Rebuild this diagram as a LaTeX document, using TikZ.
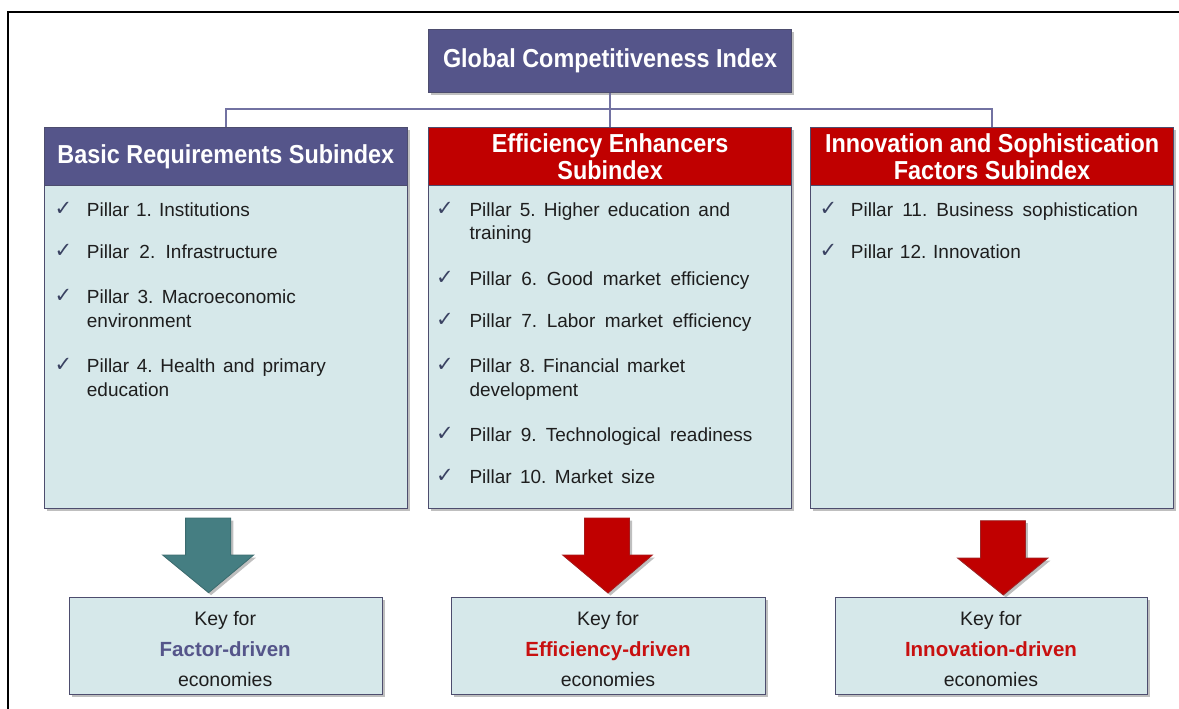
\documentclass[tikz,border=0pt]{standalone}
\usepackage{fontspec}
\setmainfont{Liberation Sans}
\newfontfamily\hdfont[FakeStretch=0.9]{Liberation Sans Bold}
\newfontfamily\symfont{DejaVu Sans}
\usetikzlibrary{shadows}
\definecolor{hdpurple}{HTML}{55558A}
\definecolor{hdred}{HTML}{C00000}
\definecolor{bodyfill}{HTML}{D6E8EA}
\definecolor{borderc}{HTML}{4D4D6E}
\definecolor{connc}{HTML}{7272A2}
\definecolor{tealc}{HTML}{457E82}
\definecolor{checkc}{HTML}{3A4262}
\definecolor{textc}{HTML}{1E1E1E}
\definecolor{keyred}{HTML}{C81010}
\begin{document}
\frenchspacing
\begin{tikzpicture}[x=1pt,y=-1pt,
  shadowed/.style={drop shadow={shadow xshift=2.5pt,shadow yshift=-2.5pt,opacity=0.25,fill=black}},
  bodybox/.style={rectangle,draw=borderc,line width=1.2pt,fill=bodyfill,inner sep=0pt,anchor=north west,shadowed},
  hdrbox/.style={rectangle,draw=borderc,line width=1.2pt,inner sep=0pt,anchor=north west,
    text=white,align=center,font=\hdfont\fontsize{26}{27.5}\selectfont},
  conn/.style={draw=connc,line width=1.3pt},
  pill/.style={anchor=base west,inner sep=0pt,text=textc,font=\fontsize{19}{23}\selectfont\frenchspacing},
  chk/.style={anchor=base,inner sep=0pt,text=checkc,font=\symfont\fontsize{21}{24}\selectfont},
  keytxt/.style={anchor=base,inner sep=0pt,text=textc,font=\fontsize{19.5}{23}\selectfont},
  keybold/.style={anchor=base,inner sep=0pt,font=\bfseries\fontsize{20.5}{24}\selectfont},
  arr/.style={line width=0.8pt,line join=miter}
]
\useasboundingbox (0,0) rectangle (1179,709);
% outer frame
\draw[line width=1.6pt] (8,709) -- (8,12) -- (1179,12);

% title
\node[rectangle,draw=borderc,line width=1.2pt,fill=hdpurple,anchor=north west,inner sep=0pt,
  minimum width=363pt,minimum height=63pt,shadowed,text=white,
  font=\hdfont\fontsize{26}{27.5}\selectfont] (gci) at (428,29) {Global Competitiveness Index};

% subindex boxes
\node[bodybox,minimum width=362.5pt,minimum height=381pt] (b1) at (44,127) {};
\node[hdrbox,fill=hdpurple,minimum width=362.5pt,minimum height=58pt] (h1) at (44,127) {Basic Requirements Subindex};
\node[bodybox,minimum width=363pt,minimum height=381pt] (b2) at (428,127) {};
\node[hdrbox,fill=hdred,minimum width=363pt,minimum height=58pt] (h2) at (428,127) {Efficiency Enhancers\\Subindex};
\node[bodybox,minimum width=363pt,minimum height=381pt] (b3) at (810,127) {};
\node[hdrbox,fill=hdred,minimum width=363pt,minimum height=58pt] (h3) at (810,127) {Innovation and Sophistication\\Factors Subindex};

% connectors
\coordinate (bus) at (609.5,109);
\draw[conn] (gci.south) -- (b2.north);
\draw[conn] (b1.north) |- (bus) -| (b3.north);

% box 1 items
\node[chk] at (63.5,215) {✓};
\node[pill] at (86.7,216) {\makebox[163pt][s]{Pillar 1. Institutions}};
\node[chk] at (63.5,257.4) {✓};
\node[pill] at (86.7,258.4) {\makebox[190.7pt][s]{Pillar 2. Infrastructure}};
\node[chk] at (63.5,302.7) {✓};
\node[pill] at (86.7,303.7) {\makebox[209pt][s]{Pillar 3. Macroeconomic}};
\node[pill] at (86.7,327.4) {environment};
\node[chk] at (63.5,371.7) {✓};
\node[pill] at (86.7,372.7) {\makebox[239pt][s]{Pillar 4. Health and primary}};
\node[pill] at (86.7,396) {education};

% box 2 items
\node[chk] at (445,215.7) {✓};
\node[pill] at (469.3,216.7) {\makebox[260.7pt][s]{Pillar 5. Higher education and}};
\node[pill] at (469.3,239.4) {training};
\node[chk] at (445,284) {✓};
\node[pill] at (469.3,285) {\makebox[280pt][s]{Pillar 6. Good market efficiency}};
\node[chk] at (445,326.4) {✓};
\node[pill] at (469.3,327.4) {\makebox[282pt][s]{Pillar 7. Labor market efficiency}};
\node[chk] at (445,371.4) {✓};
\node[pill] at (469.3,372.4) {\makebox[215.7pt][s]{Pillar 8. Financial market}};
\node[pill] at (469.3,396) {development};
\node[chk] at (445,440.7) {✓};
\node[pill] at (469.3,441.7) {\makebox[283pt][s]{Pillar 9. Technological readiness}};
\node[chk] at (445,482.4) {✓};
\node[pill] at (469.3,483.4) {\makebox[185.7pt][s]{Pillar 10. Market size}};

% box 3 items
\node[chk] at (828.3,215) {✓};
\node[pill] at (850.7,216) {\makebox[287pt][s]{Pillar 11. Business sophistication}};
\node[chk] at (828.3,257.4) {✓};
\node[pill] at (850.7,258.4) {\makebox[170pt][s]{Pillar 12. Innovation}};

% block arrows
\draw[arr,fill=tealc,draw=tealc!85!black,shadowed]
  (185.6,518) -- (230.8,518) -- (230.8,555) -- (253.7,555) -- (208.6,592.7) -- (162.6,555) -- (185.6,555) -- cycle;
\draw[arr,fill=hdred,draw=hdred!80!tealc,shadowed]
  (584.4,518) -- (629.5,518) -- (629.5,555) -- (652.4,555) -- (608,593) -- (562.6,555) -- (584.4,555) -- cycle;
\draw[arr,fill=hdred,draw=hdred!70!tealc,shadowed]
  (980.4,520.7) -- (1025.4,520.7) -- (1025.4,558) -- (1048,558) -- (1003.3,595) -- (957.5,558) -- (980.4,558) -- cycle;

% key boxes
\node[bodybox,minimum width=312.5pt,minimum height=97pt] (k1) at (69,597) {};
\node[bodybox,minimum width=314pt,minimum height=97pt] (k2) at (451,597) {};
\node[bodybox,minimum width=312pt,minimum height=97pt] (k3) at (835,597) {};

\node[keytxt] at (225.2,625.7) {Key for};
\node[keybold,text=hdpurple] at (225.2,656) {Factor-driven};
\node[keytxt] at (225.2,686.7) {economies};

\node[keytxt] at (608,625.7) {Key for};
\node[keybold,text=keyred] at (608,656) {Efficiency-driven};
\node[keytxt] at (608,686.7) {economies};

\node[keytxt] at (991,625.7) {Key for};
\node[keybold,text=keyred] at (991,656) {Innovation-driven};
\node[keytxt] at (991,686.7) {economies};
\end{tikzpicture}
\end{document}
